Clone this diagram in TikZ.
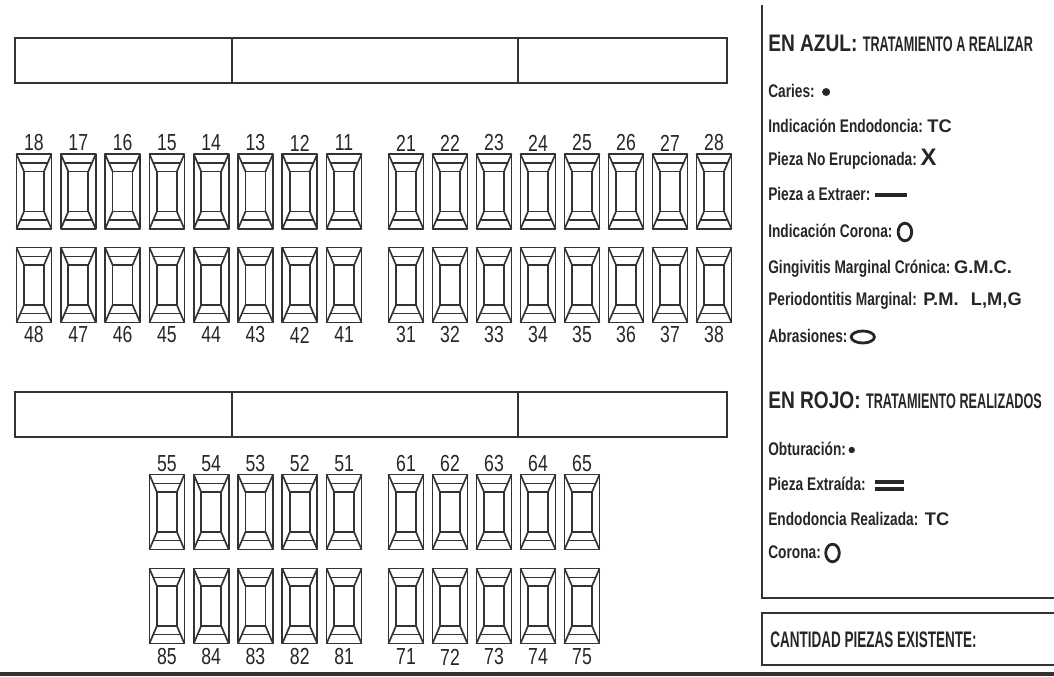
\documentclass[tikz,border=0pt]{standalone}
\usepackage{fontspec}
\setmainfont{Liberation Sans}
\newfontfamily\narrowsans[FakeStretch=0.75]{Liberation Sans}
\newfontfamily\headsans[FakeStretch=0.8]{Liberation Sans}
\newfontfamily\capsans[FakeStretch=0.6]{Liberation Sans}
\newfontfamily\numsans[FakeStretch=0.76]{Liberation Sans}
\usetikzlibrary{positioning, shapes.geometric}

\definecolor{inkgrey}{HTML}{262626}
\definecolor{linegrey}{HTML}{333333}

\tikzset{
  tooth/.pic = {
    \draw (-17.5,-37.5) rectangle (17.5,37.5);
    \draw (-10,-20) rectangle (10,20);
    \draw (-17.5,-37.5) -- (-10,-20)  (17.5,-37.5) -- (10,-20)
          (-17.5,37.5) -- (-10,20)    (17.5,37.5) -- (10,20);
    \draw (-13.6,-28.5) -- (13.6,-28.5)  (-13.6,28.5) -- (13.6,28.5);
  }
}

\begin{document}
\begin{tikzpicture}[x=0.025cm, y=-0.025cm,
  toothline/.style = {color=linegrey, line width=1.2pt, line join=round},
  bar/.style     = {draw=linegrey, line width=1.6pt},
  num/.style     = {font=\numsans\fontsize{16.5}{17}\selectfont, text=inkgrey, inner sep=0},
  leg/.style     = {font=\narrowsans\bfseries\fontsize{13}{15}\selectfont, text=inkgrey,
                    anchor=west, inner sep=0, text height=0.72em, text depth=0pt},
  sym/.style     = {font=\bfseries\fontsize{13}{15}\selectfont, text=inkgrey,
                    inner sep=0, text height=0.72em, text depth=0pt},
  head/.style    = {anchor=west, inner sep=0, text=inkgrey},
  dotsym/.style  = {circle, fill=inkgrey, inner sep=0, minimum size=0.2cm},
  ringsym/.style = {ellipse, draw=inkgrey, line width=2pt, inner sep=0,
                    minimum width=0.34cm, minimum height=0.44cm},
  ovalsym/.style = {ellipse, draw=inkgrey, line width=2pt, inner sep=0,
                    minimum width=0.58cm, minimum height=0.3cm},
  barsym/.style  = {rectangle, fill=inkgrey, inner sep=0,
                    minimum width=0.8cm, minimum height=0.11cm},
]
\useasboundingbox (0,0) rectangle (1054,677);
% ── treatment bars ──
\foreach \y in {38,392} {
  \draw[bar] (15,\y) rectangle (727,\y+45);
  \draw[bar] (232,\y) -- (232,\y+45) (518,\y) -- (518,\y+45);
}
% ── permanent teeth ──
\foreach \k in {0,...,7} {
  \pgfmathsetmacro\xl{34+44.3*\k}
  \pgfmathsetmacro\xr{406+44*\k}
  \pgfmathtruncatemacro\ul{18-\k}
  \pgfmathtruncatemacro\ll{48-\k}
  \pgfmathtruncatemacro\ur{21+\k}
  \pgfmathtruncatemacro\lr{31+\k}
  \pic[toothline] at (\xl,191.5) {tooth};
  \pic[toothline] at (\xl,285) {tooth};
  \pic[toothline] at (\xr,191.5) {tooth};
  \pic[toothline] at (\xr,285) {tooth};
  \node[num] (t\ul) at (\xl,143) {\ul};
  \node[num] (t\ll) at (\xl,335) {\ll};
  \node[num] (t\ur) at (\xr,143) {\ur};
  \node[num] (t\lr) at (\xr,335) {\lr};
}
% ── temporary teeth ──
\foreach \k in {0,...,4} {
  \pgfmathsetmacro\xl{166.9+44.3*\k}
  \pgfmathsetmacro\xr{406+44*\k}
  \pgfmathtruncatemacro\ul{55-\k}
  \pgfmathtruncatemacro\ll{85-\k}
  \pgfmathtruncatemacro\ur{61+\k}
  \pgfmathtruncatemacro\lr{71+\k}
  \pic[toothline] at (\xl,512) {tooth};
  \pic[toothline] at (\xl,606) {tooth};
  \pic[toothline] at (\xr,512) {tooth};
  \pic[toothline] at (\xr,606) {tooth};
  \node[num] (t\ul) at (\xl,464) {\ul};
  \node[num] (t\ll) at (\xl,657) {\ll};
  \node[num] (t\ur) at (\xr,464) {\ur};
  \node[num] (t\lr) at (\xr,657) {\lr};
}
% ── legend frame ──
\draw[bar] (762,5) -- (762,598) -- (1054,598);
\draw[bar] (1054,613) -- (762,613) -- (762,665) -- (1054,665);
\draw[linegrey, line width=2.4pt] (0,674) -- (1054,674);
% ── en azul ──
\node[head] (azul) at (768,43) {\headsans\bfseries\fontsize{17}{17}\selectfont EN AZUL:
  \capsans\bfseries\fontsize{15}{17}\selectfont TRATAMIENTO A REALIZAR};
\node[leg] (caries) at (768,92) {Caries:};
\node[dotsym, right=0.17cm of caries] (cariesmk) {};
\node[leg] (endo) at (768,127) {Indicación Endodoncia:};
\node[sym, right=0.1cm of endo] (endotc) {TC};
\node[leg] (noerup) at (768,160) {Pieza No Erupcionada:};
\node[sym, right=0.08cm of noerup] (noerupx) {\fontsize{17}{17}\selectfont X};
\node[leg] (extraer) at (768,195) {Pieza a Extraer:};
\node[barsym, right=0.1cm of extraer] (extraerbar) {};
\node[leg] (corona) at (768,232) {Indicación Corona:};
\node[ringsym, right=0.1cm of corona] (coronamk) {};
\node[leg] (gmc) at (768,268) {Gingivitis Marginal Crónica:};
\node[sym, right=0.08cm of gmc] (gmctxt) {G.M.C.};
\node[leg] (perio) at (768,300) {Periodontitis Marginal:};
\node[sym, right=0.15cm of perio] (periotxt) {P.M.\hspace{0.4em} L,M,G};
\node[leg] (abras) at (768,337) {Abrasiones:};
\node[ovalsym, right=0.05cm of abras] (abrasmk) {};
% ── en rojo ──
\node[head] (rojo) at (768,400) {\headsans\bfseries\fontsize{17}{17}\selectfont EN ROJO:
  \capsans\bfseries\fontsize{15}{17}\selectfont TRATAMIENTO REALIZADOS};
\node[leg] (obtur) at (768,450) {Obturación:};
\node[dotsym, minimum size=0.16cm, right=0.05cm of obtur] (obturmk) {};
\node[leg] (extraida) at (768,485) {Pieza Extraída:};
\node[barsym, minimum width=0.72cm, minimum height=0.09cm,
      right=0.22cm of extraida, yshift=0.08cm] (extraida1) {};
\node[barsym, minimum width=0.72cm, minimum height=0.09cm,
      below=0.07cm of extraida1] (extraida2) {};
\node[leg] (endor) at (768,520) {Endodoncia Realizada:};
\node[sym, right=0.15cm of endor] (endortc) {TC};
\node[leg] (coronar) at (768,553) {Corona:};
\node[ringsym, right=0.08cm of coronar] (coronarmk) {};
% ── cantidad ──
\node[head] (cantidad) at (770,640) {\capsans\bfseries\fontsize{16}{17}\selectfont CANTIDAD PIEZAS EXISTENTE:};
\end{tikzpicture}
\end{document}
